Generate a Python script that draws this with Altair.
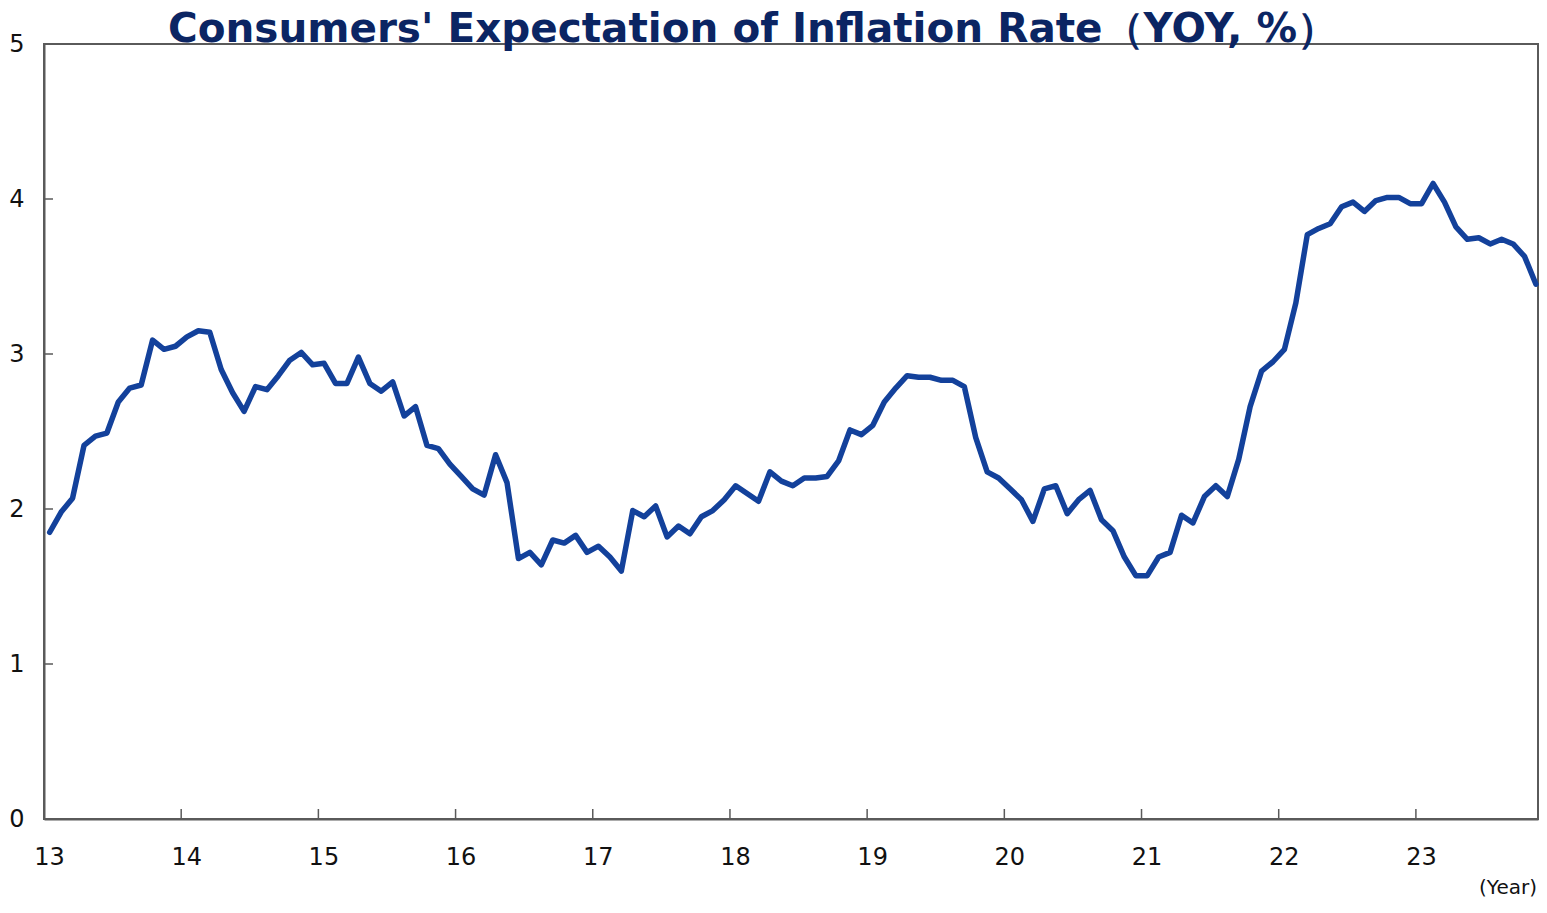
import altair as alt
import pandas as pd

# Monthly values (YOY, %), Jan 2013 - Nov 2023
v2013 = [1.85, 1.98, 2.07, 2.41, 2.47, 2.49, 2.69, 2.78, 2.80, 3.09, 3.03, 3.05]
v2014 = [3.11, 3.15, 3.14, 2.90, 2.75, 2.63, 2.79, 2.77, 2.86, 2.96, 3.01, 2.93]
v2015 = [2.94, 2.81, 2.81, 2.98, 2.81, 2.76, 2.82, 2.60, 2.66, 2.41, 2.39, 2.29]
v2016 = [2.21, 2.13, 2.09, 2.35, 2.17, 1.68, 1.72, 1.64, 1.80, 1.78, 1.83, 1.72]
v2017 = [1.76, 1.69, 1.60, 1.99, 1.95, 2.02, 1.82, 1.89, 1.84, 1.95, 1.99, 2.06]
v2018 = [2.15, 2.10, 2.05, 2.24, 2.18, 2.15, 2.20, 2.20, 2.21, 2.31, 2.51, 2.48]
v2019 = [2.54, 2.69, 2.78, 2.86, 2.85, 2.85, 2.83, 2.83, 2.79, 2.46, 2.24, 2.20]
v2020 = [2.13, 2.06, 1.92, 2.13, 2.15, 1.97, 2.06, 2.12, 1.93, 1.86, 1.69, 1.57]
v2021 = [1.57, 1.69, 1.72, 1.96, 1.91, 2.08, 2.15, 2.08, 2.32, 2.66, 2.89, 2.95]
v2022 = [3.03, 3.33, 3.77, 3.81, 3.84, 3.95, 3.98, 3.92, 3.99, 4.01, 4.01, 3.97]
v2023 = [3.97, 4.10, 3.98, 3.82, 3.74, 3.75, 3.71, 3.74, 3.71, 3.63, 3.45]

years = list(range(2013, 2024))
series = [v2013, v2014, v2015, v2016, v2017, v2018, v2019, v2020, v2021, v2022, v2023]

x_tick_years = list(range(2013, 2024))
y_tick_values = [0, 1, 2, 3, 4, 5]
inner_x_ticks = list(range(2014, 2024))
inner_y_ticks = [1, 2, 3, 4]

TITLE = "Consumers' Expectation of Inflation Rate（YOY, %）"
UNIT_LABEL = "(Year)"

rows = []
for yr, vals in zip(years, series):
    for m, v in enumerate(vals, start=1):
        rows.append({"t": yr + (m - 0.5) / 12.0, "value": v})
df = pd.DataFrame(rows)

W, H = 1494, 775
LINE_COLOR = "#13419B"
FRAME_COLOR = "#5a5a5a"
FONT = "DejaVu Sans"

x_scale = alt.Scale(domain=[2013, 2023.89], nice=False, zero=False)
y_scale = alt.Scale(domain=[0, 5], nice=False)

line = alt.Chart(df).mark_line(
    color=LINE_COLOR, strokeWidth=5.5, strokeJoin="round", strokeCap="round"
).encode(
    x=alt.X("t:Q", scale=x_scale, axis=alt.Axis(
        values=x_tick_years,
        labelExpr="slice(toString(datum.value), 2)",
        title=None, grid=False, ticks=False, tickSize=0,
        labelPadding=26, labelOffset=5, labelFontSize=24, labelFont=FONT,
        labelColor="#111111", domainColor=FRAME_COLOR, domainWidth=2,
        labelFlush=False,
    )),
    y=alt.Y("value:Q", scale=y_scale, axis=alt.Axis(
        values=y_tick_values, format="d", title=None, grid=False, ticks=False,
        tickSize=0, labelPadding=20, labelFontSize=24, labelFont=FONT,
        labelColor="#111111", domainColor=FRAME_COLOR, domainWidth=2,
        labelFlush=False,
    )),
)

xt = alt.Chart(pd.DataFrame({"t": inner_x_ticks})).mark_rule(
    color=FRAME_COLOR, strokeWidth=1.5
).encode(x="t:Q", y=alt.value(H), y2=alt.value(H - 10))

yt = alt.Chart(pd.DataFrame({"value": inner_y_ticks})).mark_rule(
    color=FRAME_COLOR, strokeWidth=1.5
).encode(y="value:Q", x=alt.value(0), x2=alt.value(9))

unit = alt.Chart(pd.DataFrame({"label": [UNIT_LABEL]})).mark_text(
    align="right", baseline="alphabetic", fontSize=20, font=FONT, color="#111111"
).encode(x=alt.value(W - 1), y=alt.value(H + 75), text="label:N")

title = alt.Chart(pd.DataFrame({"label": [TITLE]})).mark_text(
    align="center", baseline="alphabetic", fontSize=40.5, font=FONT,
    fontWeight="bold", color="#0B2563"
).encode(x=alt.value(709), y=alt.value(-2), text="label:N")

chart = alt.layer(xt, yt, line, unit, title).properties(
    width=W, height=H,
    autosize=alt.AutoSizeParams(type="none"),
    padding={"left": 36, "top": 36, "right": 1, "bottom": 81},
).configure(
    background="white"
).configure_view(
    stroke=FRAME_COLOR, strokeWidth=2
)

chart.save("out.html", embed_options={"renderer": "svg", "actions": False})
